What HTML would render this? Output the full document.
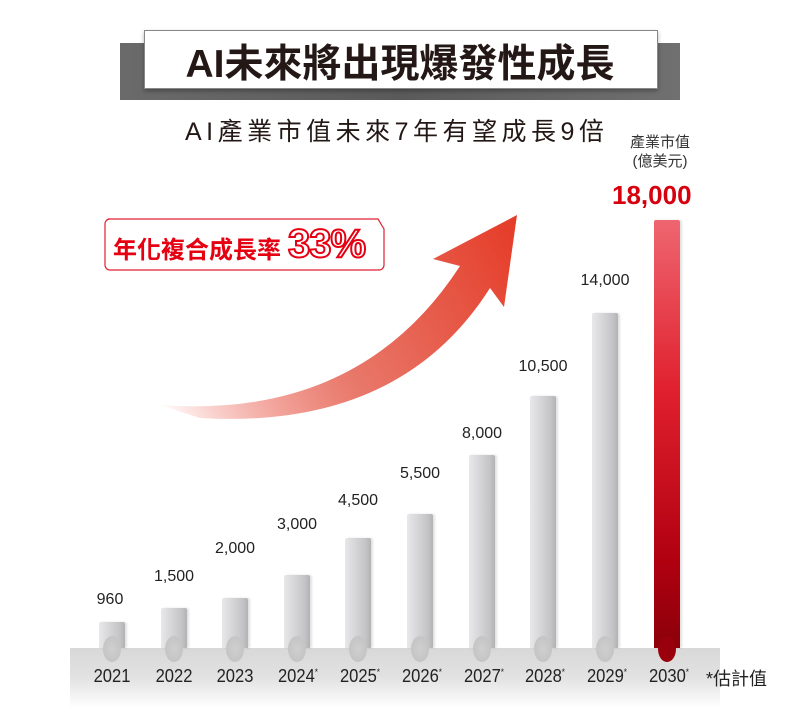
<!DOCTYPE html>
<html><head><meta charset="utf-8"><style>
body{margin:0;background:#fff;}
#c{position:relative;width:800px;height:725px;overflow:hidden;font-family:"Liberation Sans","Noto Sans CJK TC",sans-serif;}
.t{position:absolute;white-space:nowrap;}
.bar{position:absolute;width:26px;background:linear-gradient(90deg,#e8e8ea,#c4c4c7 80%,#b2b2b5);border-radius:2px 2px 0 0;box-shadow:2px 0 2px rgba(0,0,0,0.12);}
.val{position:absolute;font-size:16px;color:#222;transform:translateX(-50%);}
.yr{position:absolute;top:666px;font-size:18px;color:#222;transform:translateX(-50%) scaleX(0.92);}
.yr sup{font-size:9px;}
.knob{position:absolute;top:636px;width:18px;height:26px;border-radius:50%;background:radial-gradient(#cfcfcf,#c0c0c0);}
</style></head><body><div id="c">
<div style="position:absolute;left:120px;top:43px;width:560px;height:57px;background:linear-gradient(90deg,#6a6a6a,#5a5a5a 50%,#707070);"></div>
<div style="position:absolute;left:144px;top:30px;width:512px;height:57px;background:#fff;border:1px solid #888;box-shadow:0 2px 4px rgba(0,0,0,.3);"></div>
<div class="t" style="left:144px;top:33px;width:512px;text-align:center;font-size:39px;font-weight:bold;color:#231815;">AI未來將出現爆發性成長</div>
<div class="t" style="left:185px;top:112px;font-size:25px;color:#231815;letter-spacing:4.5px;">AI產業市值未來7年有望成長9倍</div>
<div class="t" style="left:620px;top:133px;font-size:15px;color:#333;line-height:19px;text-align:center;width:80px;">產業市值<br>(億美元)</div>
<div class="t" style="left:612px;top:180px;font-size:26px;font-weight:bold;color:#d7000f;">18,000</div>
<svg style="position:absolute;left:0;top:0" width="800" height="725">
<defs><linearGradient id="g" x1="160" y1="410" x2="520" y2="215" gradientUnits="userSpaceOnUse">
<stop offset="0" stop-color="#e8392a" stop-opacity="0"/><stop offset="0.45" stop-color="#e8786a"/><stop offset="1" stop-color="#e53a26"/></linearGradient>
<linearGradient id="fl" x1="0" y1="0" x2="0" y2="1"><stop offset="0" stop-color="#d8d8d8"/><stop offset=".5" stop-color="#e2e2e2"/><stop offset="1" stop-color="#fff"/></linearGradient></defs>
<path d="M160 405 Q360 420 460 266 L433 259 L517 215 L504 307 L490 288 Q400 430 200 418 Z" fill="url(#g)"/>
<path d="M108 219 h270 l6 10 v36 a5 5 0 0 1 -5 5 h-269 a5 5 0 0 1 -5 -5 v-41 a5 5 0 0 1 5 -5z" fill="#fff" stroke="#e02030" stroke-width="1.2"/>
<rect x="70" y="648" width="650" height="60" fill="url(#fl)"/>
</svg>
<div class="t" style="left:113px;top:230px;font-size:24px;font-weight:bold;color:#e50012;">年化複合成長率</div>
<div class="t" style="left:288px;top:222px;font-size:40px;font-weight:bold;color:#fff;-webkit-text-stroke:2px #e50012;letter-spacing:-1px;">33%</div>

<div class="bar" style="left:99px;top:622px;height:26px"></div>
<div class="bar" style="left:161px;top:608px;height:40px"></div>
<div class="bar" style="left:222px;top:598px;height:50px"></div>
<div class="bar" style="left:284px;top:575px;height:73px"></div>
<div class="bar" style="left:345px;top:538px;height:110px"></div>
<div class="bar" style="left:407px;top:514px;height:134px"></div>
<div class="bar" style="left:469px;top:455px;height:193px"></div>
<div class="bar" style="left:530px;top:396px;height:252px"></div>
<div class="bar" style="left:592px;top:313px;height:335px"></div>
<div class="bar" style="left:654px;top:220px;height:428px;background:linear-gradient(180deg,#ee6670,#e0202e 40%,#b00010 80%,#8a000a);"></div>

<div class="knob" style="left:103px"></div><div class="knob" style="left:165px"></div><div class="knob" style="left:226px"></div><div class="knob" style="left:288px"></div><div class="knob" style="left:349px"></div><div class="knob" style="left:411px"></div><div class="knob" style="left:473px"></div><div class="knob" style="left:534px"></div><div class="knob" style="left:596px"></div><div class="knob" style="left:658px;background:#9a000c"></div>

<div class="val" style="left:110px;top:591px">960</div>
<div class="val" style="left:174px;top:568px">1,500</div>
<div class="val" style="left:235px;top:540px">2,000</div>
<div class="val" style="left:297px;top:516px">3,000</div>
<div class="val" style="left:358px;top:492px">4,500</div>
<div class="val" style="left:420px;top:465px">5,500</div>
<div class="val" style="left:482px;top:425px">8,000</div>
<div class="val" style="left:543px;top:358px">10,500</div>
<div class="val" style="left:605px;top:272px">14,000</div>

<div class="yr" style="left:112px">2021</div>
<div class="yr" style="left:174px">2022</div>
<div class="yr" style="left:235px">2023</div>
<div class="yr" style="left:298px">2024<sup>*</sup></div>
<div class="yr" style="left:360px">2025<sup>*</sup></div>
<div class="yr" style="left:422px">2026<sup>*</sup></div>
<div class="yr" style="left:484px">2027<sup>*</sup></div>
<div class="yr" style="left:545px">2028<sup>*</sup></div>
<div class="yr" style="left:607px">2029<sup>*</sup></div>
<div class="yr" style="left:669px">2030<sup>*</sup></div>
<div class="t" style="left:706px;top:665px;font-size:18px;color:#222;">*估計值</div>
</div></body></html>
